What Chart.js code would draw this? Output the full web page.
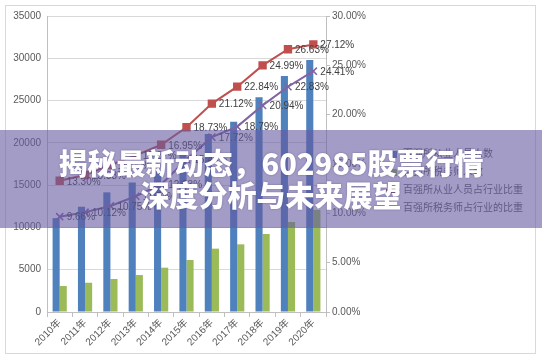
<!DOCTYPE html>
<html>
<head>
<meta charset="utf-8">
<script src="https://cdn.jsdelivr.net/npm/chart.js@4.4.1/dist/chart.umd.min.js"></script>
<style>
  html, body { margin: 0; padding: 0; background: #fff; }
  #wrap { position: relative; width: 542px; height: 359px; overflow: hidden; }
  #frame { position: absolute; left: 5px; top: 5px; width: 531px; height: 349px; border: 1px solid #d9d9d9; box-sizing: border-box; pointer-events: none; }
  #legenda { position: absolute; left: 386px; top: 146px; font: 10px "Noto Sans CJK SC", sans-serif; color: #595959; }
  #legenda div { height: 18px; line-height: 14px; white-space: nowrap; }
  #legenda span.m { display: inline-block; width: 14px; margin-right: 3px; position: relative; height: 8px; vertical-align: middle; }
  #banner {
    position: absolute; left: 0; top: 130px; width: 542px; height: 98px;
    background: rgba(100, 90, 160, 0.6);
    color: #fff; text-align: center;
    font-family: "Noto Sans CJK SC", "Noto Sans", sans-serif; font-weight: 900;
    font-size: 29px; line-height: 32px;
    padding-top: 16px; box-sizing: border-box;
    text-shadow: 0 0 2px rgba(60, 50, 110, 0.5);
  }
</style>
</head>
<body>
<div id="wrap">
  <canvas id="grafico" width="542" height="359"></canvas>
  <div id="legenda"></div>
  <div id="frame"></div>
  <div id="banner">揭秘最新动态，602985股票行情<br>深度分析与未来展望</div>
</div>
<script>
// Dados
const anos = ['2010年', '2011年', '2012年', '2013年', '2014年', '2015年', '2016年', '2017年', '2018年', '2019年', '2020年'];
const pessoal = [11100, 12450, 14150, 15300, 16800, 18900, 21050, 22500, 25400, 27900, 29800];
const agentes = [3070, 3460, 3900, 4370, 5240, 6150, 7490, 8000, 9220, 10640, 12060];
const partePessoal = [13.30, 13.88, 14.90, 15.87, 16.95, 18.73, 21.12, 22.84, 24.99, 26.63, 27.12];
const parteAgentes = [9.66, 10.12, 10.75, 11.73, 12.93, 15.45, 17.72, 18.79, 20.94, 22.83, 24.41];
const nomes = ['百强所从业人员人数', '百强所税务师人数', '百强所从业人员占行业比重', '百强所税务师占行业的比重'];

const corTexto = '#595959';
const fonte = { family: 'Arial, "Liberation Sans", "Noto Sans CJK SC", sans-serif', size: 10 };

// Rótulos de percentagem ao lado dos pontos
const rotulos = {
  id: 'rotulos',
  afterDatasetsDraw(chart) {
    const ctx = chart.ctx;
    ctx.save();
    ctx.font = '10px Arial, "Liberation Sans", sans-serif';
    ctx.fillStyle = '#404040';
    ctx.textBaseline = 'middle';
    chart.data.datasets.forEach((ds, i) => {
      if (ds.type !== 'line') return;
      chart.getDatasetMeta(i).data.forEach((pt, j) => {
        ctx.fillText(ds.data[j].toFixed(2) + '%', pt.x + 7, pt.y + 1);
      });
    });
    ctx.restore();
  }
};

const config = {
  data: {
    labels: anos,
    datasets: [
      { type: 'bar', label: nomes[0], data: pessoal, backgroundColor: '#4f81bd', yAxisID: 'y', order: 2 },
      { type: 'bar', label: nomes[1], data: agentes, backgroundColor: '#9bbb59', yAxisID: 'y', order: 2 },
      { type: 'line', label: nomes[2], data: partePessoal, borderColor: '#c0504d', backgroundColor: '#c0504d',
        borderWidth: 2, pointStyle: 'rect', pointRadius: 4.5, yAxisID: 'y1', order: 1 },
      { type: 'line', label: nomes[3], data: parteAgentes, borderColor: '#8064a2', backgroundColor: '#8064a2',
        borderWidth: 2, pointStyle: 'crossRot', pointRadius: 5, pointBorderWidth: 1.5, yAxisID: 'y1', order: 0 }
    ]
  },
  options: {
    responsive: false,
    animation: false,
    layout: { padding: { left: 8, right: 160, top: 16, bottom: 5 } },
    datasets: { bar: { categoryPercentage: 0.56, barPercentage: 1 } },
    plugins: {
      legend: { display: false },
      tooltip: { enabled: false }
    },
    scales: {
      x: {
        grid: { display: true, drawOnChartArea: false, offset: true, tickLength: 5, color: '#bfbfbf' },
        border: { color: '#bfbfbf' },
        ticks: { font: fonte, color: corTexto, maxRotation: 45, minRotation: 45, padding: 0 },
        afterFit(s) { s.height = 42; }
      },
      y: {
        position: 'left',
        min: 0, max: 35000,
        ticks: { stepSize: 5000, font: fonte, color: corTexto, padding: 6, callback: v => String(v) },
        grid: { color: '#d9d9d9', tickLength: 0 },
        border: { color: '#bfbfbf' },
        afterFit(s) { s.width = 39; }
      },
      y1: {
        position: 'right',
        min: 0, max: 30,
        ticks: { stepSize: 5, font: fonte, color: corTexto, padding: 2, callback: v => v.toFixed(2) + '%' },
        grid: { drawOnChartArea: false, tickLength: 4, color: '#bfbfbf' },
        border: { color: '#bfbfbf' },
        afterFit(s) { s.width = 56; }
      }
    }
  },
  plugins: [rotulos]
};

const ctx = document.getElementById('grafico').getContext('2d');
const meuGrafico = new Chart(ctx, config);

// Legenda em HTML
const legenda = document.getElementById('legenda');
meuGrafico.data.datasets.forEach(ds => {
  const linha = document.createElement('div');
  const m = document.createElement('span');
  m.className = 'm';
  if (ds.type === 'bar') {
    m.innerHTML = '<i style="position:absolute;left:4px;top:1px;width:7px;height:7px;background:' + ds.backgroundColor + '"></i>';
  } else {
    m.innerHTML = '<i style="position:absolute;left:0;top:3px;width:14px;height:2px;background:' + ds.borderColor + '"></i>' +
      (ds.pointStyle === 'rect' ? '<i style="position:absolute;left:4px;top:1px;width:6px;height:6px;background:' + ds.borderColor + '"></i>' : '');
  }
  linha.appendChild(m);
  linha.appendChild(document.createTextNode(ds.label));
  legenda.appendChild(linha);
});
</script>
</body>
</html>
